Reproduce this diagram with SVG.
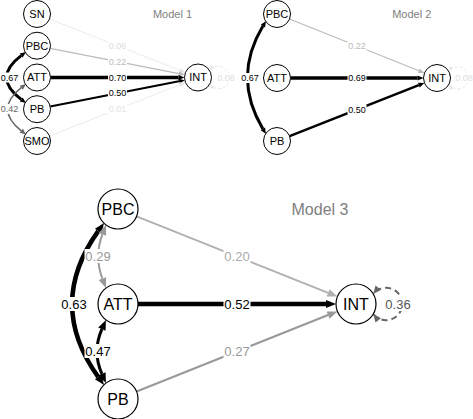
<svg xmlns="http://www.w3.org/2000/svg" width="473" height="419" viewBox="0 0 473 419">
<style>
text{font-family:"Liberation Sans",Arial,Helvetica,sans-serif;text-anchor:middle}
.n circle{fill:#fff;stroke:#000}
.n1 circle{stroke-width:1}
.n3 circle{stroke-width:1.2}
.n1 text{font-size:11px}
.n3 text{font-size:16px}
.e{fill:none}
.lb1 rect,.lb3 rect{fill:#fff}
.lb1 text{font-size:9px}
.lb3 text{font-size:13px}
.title{fill:#808080}
</style>
<defs>
<marker id="a3k" viewBox="0 0 10 8" refX="0" refY="4" markerWidth="10" markerHeight="8" markerUnits="userSpaceOnUse" orient="auto-start-reverse" overflow="visible"><path d="M0,0L10,4L0,8z" fill="#000"/></marker>
<marker id="a3g9" viewBox="0 0 10 8" refX="0" refY="4" markerWidth="10" markerHeight="8" markerUnits="userSpaceOnUse" orient="auto-start-reverse" overflow="visible"><path d="M0,0L10,4L0,8z" fill="#999"/></marker>
<marker id="a3ga" viewBox="0 0 10 8" refX="0" refY="4" markerWidth="10" markerHeight="8" markerUnits="userSpaceOnUse" orient="auto-start-reverse" overflow="visible"><path d="M0,0L10,4L0,8z" fill="#b0b0b0"/></marker>
<marker id="l3" viewBox="0 0 8 7" refX="8" refY="3.5" markerWidth="8" markerHeight="7" markerUnits="userSpaceOnUse" orient="auto-start-reverse" overflow="visible"><path d="M0,0L8,3.5L0,7z" fill="#666"/></marker>
<marker id="a1k" viewBox="0 0 6 5" refX="0" refY="2.5" markerWidth="6" markerHeight="5" markerUnits="userSpaceOnUse" orient="auto-start-reverse" overflow="visible"><path d="M0,0L6,2.5L0,5z" fill="#000"/></marker>
<marker id="a1b" viewBox="0 0 6 5" refX="0" refY="2.5" markerWidth="6" markerHeight="5" markerUnits="userSpaceOnUse" orient="auto-start-reverse" overflow="visible"><path d="M0,0L6,2.5L0,5z" fill="#bbb"/></marker>
<marker id="a1e" viewBox="0 0 6 5" refX="0" refY="2.5" markerWidth="6" markerHeight="5" markerUnits="userSpaceOnUse" orient="auto-start-reverse" overflow="visible"><path d="M0,0L6,2.5L0,5z" fill="#e6e6e6"/></marker>
<marker id="a1g" viewBox="0 0 6 5" refX="0" refY="2.5" markerWidth="6" markerHeight="5" markerUnits="userSpaceOnUse" orient="auto-start-reverse" overflow="visible"><path d="M0,0L6,2.5L0,5z" fill="#666"/></marker>
<marker id="l1" viewBox="0 0 5 4" refX="5" refY="2" markerWidth="5" markerHeight="4" markerUnits="userSpaceOnUse" orient="auto-start-reverse" overflow="visible"><path d="M0,0L5,2L0,4z" fill="#e6e6e6"/></marker>
</defs>

<g id="connectors">
  <!-- Model 1 -->
  <path class="e" d="M49.6,19L179.8,70.3" stroke="#e6e6e6" stroke-width="0.8" marker-end="url(#a1e)"/>
  <path class="e" d="M50.2,48.3L178.9,73.7" stroke="#bbb" stroke-width="1.2" marker-end="url(#a1b)"/>
  <path class="e" d="M50.5,77.5L178.5,77.5" stroke="#000" stroke-width="3.5" marker-end="url(#a1k)"/>
  <path class="e" d="M50.2,106.4L178.9,81.3" stroke="#000" stroke-width="2" marker-end="url(#a1k)"/>
  <path class="e" d="M49.6,136L179.8,84.7" stroke="#e6e6e6" stroke-width="0.8" marker-end="url(#a1e)"/>
  <path class="e" d="M21.2,55.6Q-8,77.5 21.2,99.4" stroke="#000" stroke-width="3" marker-start="url(#a1k)" marker-end="url(#a1k)"/>
  <path class="e" d="M21.3,87.7Q-6,109.2 21.3,130.8" stroke="#666" stroke-width="1.5" marker-start="url(#a1g)" marker-end="url(#a1g)"/>
  <path class="e" d="M209.7,84.25A11.1,11.1 0 1 0 209.7,70.75" stroke="#e6e6e6" stroke-width="1" stroke-dasharray="3,2" marker-start="url(#l1)" marker-end="url(#l1)"/>
  <!-- Model 2 -->
  <path class="e" d="M289.5,19L418.9,70.8" stroke="#bbb" stroke-width="1.2" marker-end="url(#a1b)"/>
  <path class="e" d="M290.5,78L417.5,78" stroke="#000" stroke-width="3.5" marker-end="url(#a1k)"/>
  <path class="e" d="M289.6,136.1L418.8,85.1" stroke="#000" stroke-width="2.5" marker-end="url(#a1k)"/>
  <path class="e" d="M262.9,26.1Q232,77.5 262.9,128.9" stroke="#000" stroke-width="3" marker-start="url(#a1k)" marker-end="url(#a1k)"/>
  <path class="e" d="M448.7,84.75A11.1,11.1 0 1 0 448.7,71.25" stroke="#e6e6e6" stroke-width="1" stroke-dasharray="3,2" marker-start="url(#l1)" marker-end="url(#l1)"/>
  <!-- Model 3 -->
  <path class="e" d="M136.6,216.4L328.1,292.9" stroke="#b0b0b0" stroke-width="1.8" marker-end="url(#a3ga)"/>
  <path class="e" d="M138,304L326,304" stroke="#000" stroke-width="4.5" marker-end="url(#a3k)"/>
  <path class="e" d="M136.6,391.6L328.1,315.1" stroke="#999" stroke-width="2.2" marker-end="url(#a3g9)"/>
  <path class="e" d="M98.2,231.1Q46,304 98.2,376.9" stroke="#000" stroke-width="4.5" marker-start="url(#a3k)" marker-end="url(#a3k)"/>
  <path class="e" d="M102.4,234.3Q94,256.5 102.4,278.7" stroke="#999" stroke-width="2" marker-start="url(#a3g9)" marker-end="url(#a3g9)"/>
  <path class="e" d="M101.9,329.1Q92,351.5 101.9,373.9" stroke="#000" stroke-width="3" marker-start="url(#a3k)" marker-end="url(#a3k)"/>
  <path class="e" d="M373.3,314A16.2,16.2 0 1 0 373.3,294" stroke="#666" stroke-width="2" stroke-dasharray="6,4" marker-start="url(#l3)" marker-end="url(#l3)"/>
</g>

<g id="edge-labels">
  <g class="lb1">
    <rect x="108" y="40.8" width="19" height="10"/><text x="117.5" y="45.8" dy="0.35em" fill="#ddd">0.06</text>
    <rect x="108" y="56.6" width="19" height="10"/><text x="117.5" y="61.6" dy="0.35em" fill="#bbb">0.22</text>
    <rect x="108" y="72.5" width="19" height="10"/><text x="117.5" y="77.5" dy="0.35em" fill="#000">0.70</text>
    <rect x="108" y="88.2" width="19" height="10"/><text x="117.5" y="93.2" dy="0.35em" fill="#000">0.50</text>
    <rect x="108" y="104.3" width="19" height="10"/><text x="117.5" y="109.3" dy="0.35em" fill="#e3e3e3">0.01</text>
    <rect x="0" y="72.5" width="19" height="10"/><text x="9.5" y="77.5" dy="0.35em" fill="#000">0.67</text>
    <rect x="0" y="104" width="19" height="10"/><text x="9.5" y="109" dy="0.35em" fill="#666">0.42</text>
    <rect x="216.5" y="72.5" width="19" height="10"/><text x="226" y="77.5" dy="0.35em" fill="#ddd">0.08</text>
    <rect x="347.5" y="41" width="19" height="10"/><text x="357" y="46" dy="0.35em" fill="#bbb">0.22</text>
    <rect x="347.5" y="73" width="19" height="10"/><text x="357" y="78" dy="0.35em" fill="#000">0.69</text>
    <rect x="347.5" y="104.5" width="19" height="10"/><text x="357" y="109.5" dy="0.35em" fill="#000">0.50</text>
    <rect x="240.5" y="73" width="19" height="10"/><text x="250" y="78" dy="0.35em" fill="#000">0.67</text>
    <rect x="454.5" y="73" width="19" height="10"/><text x="464" y="78" dy="0.35em" fill="#ddd">0.08</text>
  </g>
  <g class="lb3">
    <rect x="223.5" y="249.5" width="27" height="14"/><text x="237" y="256.5" dy="0.35em" fill="#aaa">0.20</text>
    <rect x="223.5" y="297" width="27" height="14"/><text x="237" y="304" dy="0.35em" fill="#000">0.52</text>
    <rect x="223.5" y="344.5" width="27" height="14"/><text x="237" y="351.5" dy="0.35em" fill="#999">0.27</text>
    <rect x="84.5" y="249" width="27" height="14"/><text x="98" y="256" dy="0.35em" fill="#999">0.29</text>
    <rect x="84.5" y="344" width="27" height="14"/><text x="98" y="351" dy="0.35em" fill="#000">0.47</text>
    <rect x="60.5" y="297" width="27" height="14"/><text x="74" y="304" dy="0.35em" fill="#000">0.63</text>
    <rect x="384.5" y="297" width="27" height="14"/><text x="398" y="304" dy="0.35em" fill="#555">0.36</text>
  </g>
</g>

<text class="title" x="172.5" y="14" dy="0.35em" font-size="11">Model 1</text>
<text class="title" x="411.7" y="14" dy="0.35em" font-size="11">Model 2</text>
<text class="title" x="320" y="209" dy="0.35em" font-size="16">Model 3</text>

<g id="m1-SN" class="n n1"><circle cx="37" cy="14" r="13.5"/><text x="37" y="14" dy="0.35em">SN</text></g>
<g id="m1-PBC" class="n n1"><circle cx="37" cy="45.7" r="13.5"/><text x="37" y="45.7" dy="0.35em">PBC</text></g>
<g id="m1-ATT" class="n n1"><circle cx="37" cy="77.5" r="13.5"/><text x="37" y="77.5" dy="0.35em">ATT</text></g>
<g id="m1-PB" class="n n1"><circle cx="37" cy="109.2" r="13.5"/><text x="37" y="109.2" dy="0.35em">PB</text></g>
<g id="m1-SMO" class="n n1"><circle cx="37" cy="141" r="13.5"/><text x="37" y="141" dy="0.35em">SMO</text></g>
<g id="m1-INT" class="n n1"><circle cx="198" cy="77.5" r="13.5"/><text x="198" y="77.5" dy="0.35em">INT</text></g>

<g id="m2-PBC" class="n n1"><circle cx="277" cy="14" r="13.5"/><text x="277" y="14" dy="0.35em">PBC</text></g>
<g id="m2-ATT" class="n n1"><circle cx="277" cy="78" r="13.5"/><text x="277" y="78" dy="0.35em">ATT</text></g>
<g id="m2-PB" class="n n1"><circle cx="277" cy="141" r="13.5"/><text x="277" y="141" dy="0.35em">PB</text></g>
<g id="m2-INT" class="n n1"><circle cx="437" cy="78" r="13.5"/><text x="437" y="78" dy="0.35em">INT</text></g>

<g id="m3-PBC" class="n n3"><circle cx="118" cy="209" r="20"/><text x="118" y="209" dy="0.35em">PBC</text></g>
<g id="m3-ATT" class="n n3"><circle cx="118" cy="304" r="20"/><text x="118" y="304" dy="0.35em">ATT</text></g>
<g id="m3-PB" class="n n3"><circle cx="118" cy="399" r="20"/><text x="118" y="399" dy="0.35em">PB</text></g>
<g id="m3-INT" class="n n3"><circle cx="356" cy="304" r="20"/><text x="356" y="304" dy="0.35em">INT</text></g>
</svg>
